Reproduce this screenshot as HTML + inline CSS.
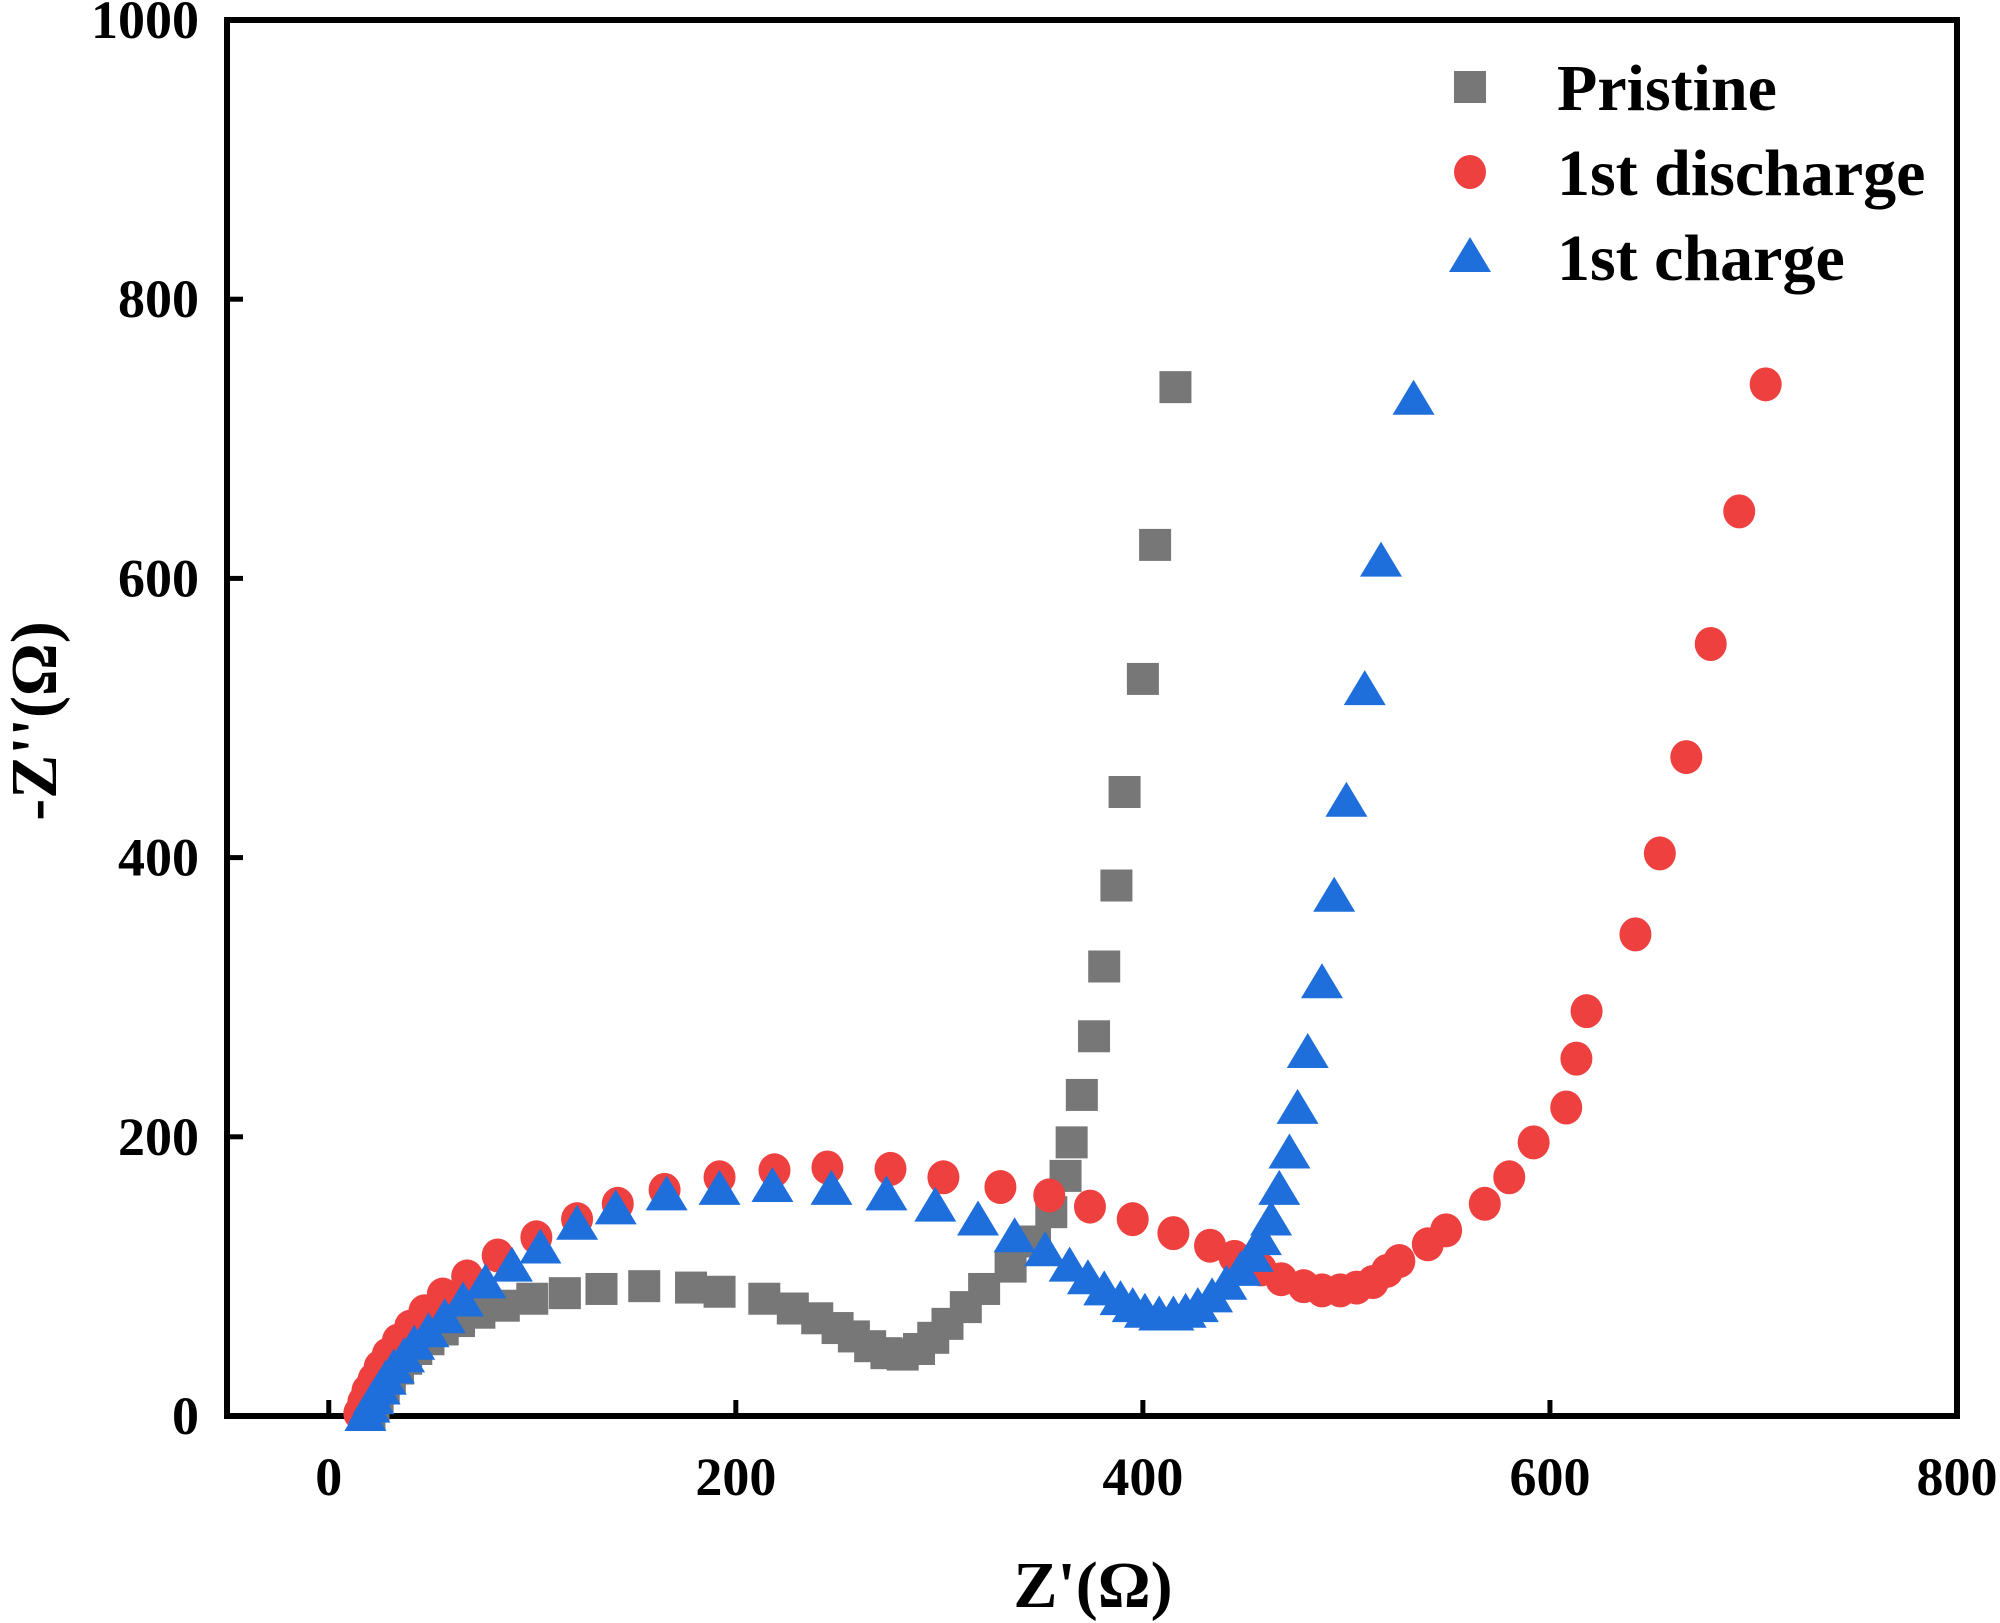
<!DOCTYPE html>
<html><head><meta charset="utf-8"><style>
html,body{margin:0;padding:0;background:#fff;}
svg{display:block;}
text{font-family:"Liberation Serif","DejaVu Serif",serif;font-weight:bold;fill:#000;}
</style></head><body>
<svg id="chart" width="2000" height="1623" viewBox="0 0 2000 1623">
<g id="axes"></g>
<g id="marks"></g>
<g id="legend"></g>
</svg>
<script>
const xTicks=[0,200,400,600,800];
const yTicks=[0,200,400,600,800,1000];
const pristineX=[20,22,24,27,30,34,38,43,49,56,64,74,86,100,116,134,155,178,192,214,228,240,250,258,266,274,282,290,297,304,313,322,335,347,355,362,365,370,376,381,387,391,400,406,416];
const pristineY=[2,8,14,20,27,34,41,48,55,62,68,74,79,84,88,91,93,92,89,84,77,70,63,57,50,45,44,48,56,66,78,91,107,125,146,172,196,230,272,322,380,447,528,624,737];
const dischargeX=[15,17,19,22,25,29,34,40,47,56,68,83,102,122,142,165,192,219,245,276,302,330,354,374,395,415,433,445,458,468,479,488,497,505,513,520,526,540,549,568,580,592,608,613,618,642,654,667,679,693,706];
const dischargeY=[2,10,18,26,35,44,54,64,75,87,100,115,128,141,152,162,171,176,178,177,171,164,158,150,141,131,122,114,105,98,93,90,90,92,96,104,111,123,133,152,171,196,221,256,290,345,403,472,553,648,739];
const chargeX=[18,20,22,25,28,32,37,42,49,57,66,77,90,104,122,141,166,192,218,247,274,298,319,337,352,364,373,381,389,395,401,408,415,421,427,434,441,448,454,458,463,467,472,476,481,488,494,500,509,517,533];
const chargeY=[0,6,12,19,26,34,42,51,60,70,82,95,107,120,137,148,158,162,164,162,158,150,140,128,118,107,98,90,83,78,74,72,72,74,78,85,94,104,114,126,140,162,188,220,260,310,372,440,520,612,728];

const L=227,R=1957,T=20,B=1416,xmin=-50,xmax=800,ymin=0,ymax=1000;
const sx=v=>L+(v-xmin)/(xmax-xmin)*(R-L);
const sy=v=>B-(v-ymin)/(ymax-ymin)*(B-T);
const NS="http://www.w3.org/2000/svg";
function mk(tag,attrs,parent){const e=document.createElementNS(NS,tag);for(const k in attrs)e.setAttribute(k,attrs[k]);parent.appendChild(e);return e;}
const axes=document.getElementById('axes'),marks=document.getElementById('marks'),legend=document.getElementById('legend');

const frame=mk('rect',{x:L,y:T,width:R-L,height:B-T,fill:'none',stroke:'#000','stroke-width':6},axes);


xTicks.forEach(v=>{
 const t=mk('line',{x1:sx(v),x2:sx(v),y1:B,y2:B-16,stroke:'#000','stroke-width':5},axes);
 
 
 const l=mk('text',{x:sx(v),y:1495,'text-anchor':'middle','font-size':54},axes);l.textContent=v;
 
 
});
yTicks.forEach(v=>{
 const t=mk('line',{x1:L,x2:L+16,y1:sy(v),y2:sy(v),stroke:'#000','stroke-width':5},axes);
 
 
 const l=mk('text',{x:199,y:sy(v)+18,'text-anchor':'end','font-size':54},axes);l.textContent=v;
 
 
});
const xt=mk('text',{x:1093,y:1607,'text-anchor':'middle','font-size':66},axes);xt.textContent="Z'(Ω)";


const yt=mk('text',{x:0,y:0,'text-anchor':'middle','font-size':66,transform:'translate(56,721) rotate(-90)'},axes);yt.textContent="-Z''(Ω)";



function square(cx,cy,p){return mk('rect',{x:cx-16,y:cy-16,width:32,height:32,fill:'#777777'},p);}
function circle(cx,cy,p){return mk('ellipse',{cx:cx,cy:cy,rx:16,ry:17,fill:'#ef4040'},p);}
function tri(cx,cy,p){return mk('polygon',{points:`${cx},${cy-20} ${cx-21},${cy+15} ${cx+21},${cy+15}`,fill:'#1e6fdc'},p);}
pristineX.forEach((x,i)=>{const e=square(sx(x),sy(pristineY[i]),marks);
 
 });
dischargeX.forEach((x,i)=>{const e=circle(sx(x),sy(dischargeY[i]),marks);
 
 });
chargeX.forEach((x,i)=>{const e=tri(sx(x),sy(chargeY[i]),marks);
 
 });

const leg=[["Pristine",square,110],["1st discharge",circle,195],["1st charge",tri,280]];
leg.forEach(([name,fn,by])=>{
 const m=fn(1470,by-23,legend);
 
 
 const t=mk('text',{x:1557,y:by,'font-size':66},legend);t.textContent=name;
 
 
});
</script>
</body></html>
